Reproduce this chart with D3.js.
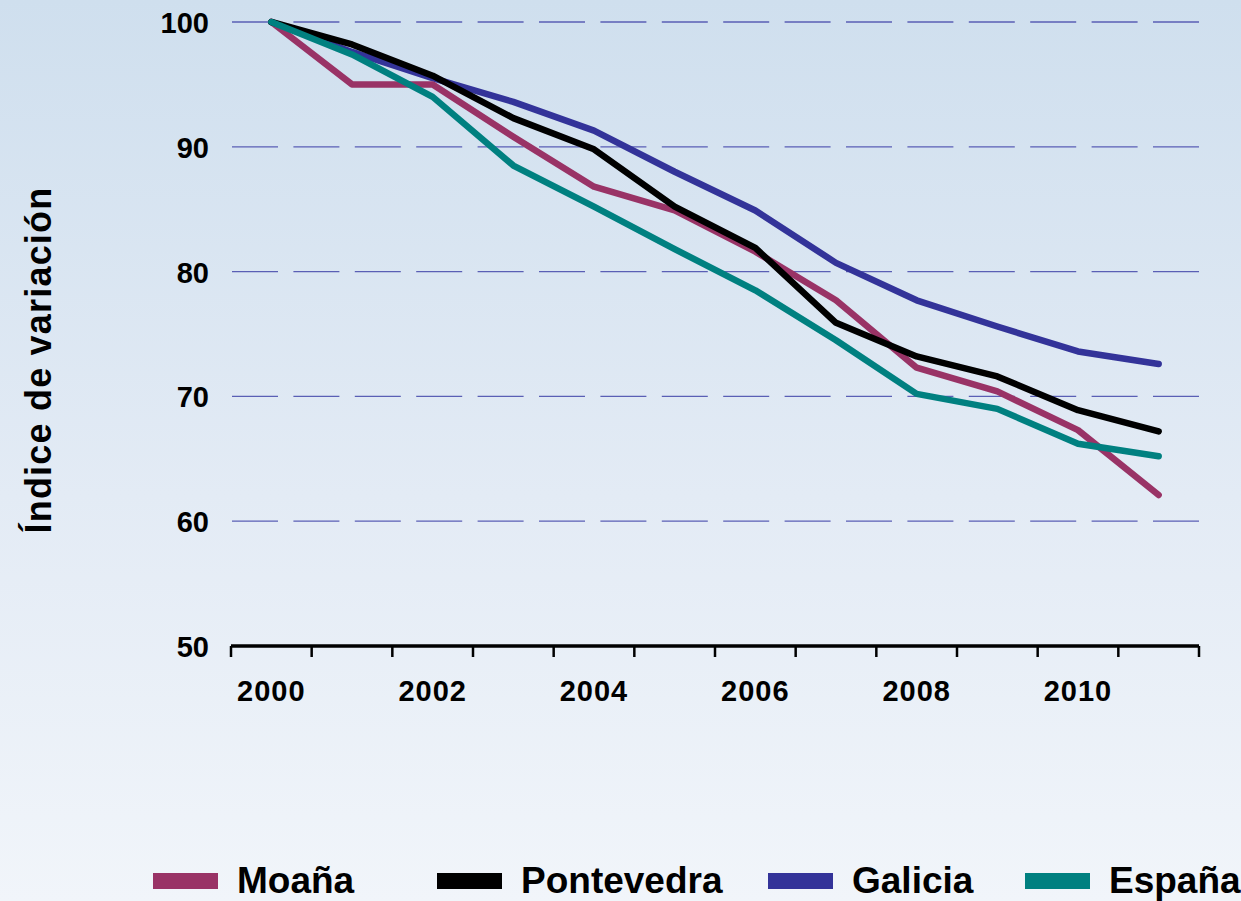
<!DOCTYPE html>
<html>
<head>
<meta charset="utf-8">
<script src="https://cdn.jsdelivr.net/npm/d3@7"></script>
<style>
  html, body { margin: 0; padding: 0; overflow: hidden; }
  body { width: 1241px; height: 901px; }
  text { font-family: "Liberation Sans", Arial, sans-serif; font-weight: bold; fill: #000; }
</style>
</head>
<body>
<svg id="chart" width="1241" height="901"></svg>
<script>
const years = [2000, 2001, 2002, 2003, 2004, 2005, 2006, 2007, 2008, 2009, 2010, 2011];
const xTickLabels = [2000, 2002, 2004, 2006, 2008, 2010];
const yTicks = [50, 60, 70, 80, 90, 100];
const seriesNames = ["Moaña", "Pontevedra", "Galicia", "España"];
const moana      = [100, 95.0, 95.0, 90.8, 86.8, 84.9, 81.6, 77.7, 72.3, 70.4, 67.3, 62.1];
const pontevedra = [100, 98.2, 95.7, 92.3, 89.8, 85.2, 81.9, 75.9, 73.2, 71.6, 68.9, 67.2];
const galicia    = [100, 97.6, 95.5, 93.6, 91.3, 88.0, 84.9, 80.7, 77.7, 75.6, 73.6, 72.6];
const espana     = [100, 97.4, 94.0, 88.5, 85.2, 81.8, 78.5, 74.5, 70.2, 69.0, 66.2, 65.2];
const colors = ["#993366", "#000000", "#333399", "#008080"];
const yTitle = "Índice de variación";

(function () {
const series = [
  { name: seriesNames[0], values: moana, color: colors[0] },
  { name: seriesNames[1], values: pontevedra, color: colors[1] },
  { name: seriesNames[2], values: galicia, color: colors[2] },
  { name: seriesNames[3], values: espana, color: colors[3] }
];
const drawOrder = [2, 0, 1, 3];

const svg = d3.select("#chart");
const W = 1241, H = 901;

const defs = svg.append("defs");
const grad = defs.append("linearGradient").attr("id", "bg")
  .attr("x1", 0).attr("y1", 0).attr("x2", 0).attr("y2", 1);
grad.append("stop").attr("offset", "0%").attr("stop-color", "#cfdfee");
grad.append("stop").attr("offset", "55%").attr("stop-color", "#e3ebf5");
grad.append("stop").attr("offset", "100%").attr("stop-color", "#f1f5fa");
svg.append("rect").attr("width", W).attr("height", H).attr("fill", "url(#bg)");

const pLeft = 231, pRight = 1199, pTop = 22, pBottom = 646;
const x = d3.scaleBand().domain(years).range([pLeft, pRight]).padding(0);
const y = d3.scaleLinear().domain([50, 100]).range([pBottom, pTop]);

// gridlines
svg.append("g").selectAll("line")
  .data(yTicks.filter(d => d > 50))
  .join("line")
  .attr("x1", pLeft + 1).attr("x2", pRight)
  .attr("y1", d => y(d)).attr("y2", d => y(d))
  .attr("stroke", "#5a5fb5").attr("stroke-width", 1.3)
  .attr("stroke-dasharray", "46,15.4");

// y axis labels
const yAxis = d3.axisLeft(y).tickValues(yTicks).tickSize(0).tickPadding(0);
const gy = svg.append("g").attr("transform", "translate(209,0)").call(yAxis);
gy.select(".domain").remove();
gy.selectAll("text")
  .attr("font-family", "Liberation Sans, Arial, sans-serif")
  .attr("font-weight", "bold")
  .attr("font-size", 29)
  .attr("fill", "#000")
  .attr("dy", "0.36em")
  .attr("x", 0)
  .style("text-anchor", "end");

// x axis
const xAxis = d3.axisBottom(x).tickSize(0).tickFormat("");
const gx = svg.append("g").attr("transform", `translate(0,${pBottom})`).call(xAxis);
gx.select(".domain").attr("stroke", "#000").attr("stroke-width", 3.5)
  .attr("d", `M${pLeft},0H${pRight}`);
gx.selectAll(".tick").remove();
const bounds = years.map(d => x(d)).concat([x(years[years.length - 1]) + x.bandwidth()]);
gx.append("g").selectAll("line").data(bounds).join("line")
  .attr("x1", d => d).attr("x2", d => d)
  .attr("y1", 0).attr("y2", 11)
  .attr("stroke", "#000").attr("stroke-width", 2.5);
gx.append("g").selectAll("text").data(xTickLabels).join("text")
  .attr("x", d => x(d) + x.bandwidth() / 2)
  .attr("y", 55)
  .attr("text-anchor", "middle")
  .attr("font-size", 29)
  .attr("letter-spacing", 1)
  .text(d => d);

// y title
svg.append("text")
  .attr("transform", "translate(51,360) rotate(-90)")
  .attr("text-anchor", "middle")
  .attr("font-size", 36)
  .attr("letter-spacing", 1.2)
  .text(yTitle);

// lines
const line = d3.line()
  .x((d, i) => x(years[i]) + x.bandwidth() / 2)
  .y(d => y(d));
svg.append("g").selectAll("path")
  .data(drawOrder.map(i => series[i]))
  .join("path")
  .attr("d", d => line(d.values))
  .attr("fill", "none")
  .attr("stroke", d => d.color)
  .attr("stroke-width", 6.5)
  .attr("stroke-linejoin", "round")
  .attr("stroke-linecap", "round");

// legend
const legendX = [153, 437, 768, 1025];
const lg = svg.append("g").selectAll("g").data(series).join("g")
  .attr("transform", (d, i) => `translate(${legendX[i]},0)`);
lg.append("rect").attr("x", 0).attr("y", 873).attr("width", 65).attr("height", 16)
  .attr("fill", d => d.color);
lg.append("text").attr("x", 84).attr("y", 893)
  .attr("font-size", 37)
  .text(d => d.name);
})();
</script>
</body>
</html>
